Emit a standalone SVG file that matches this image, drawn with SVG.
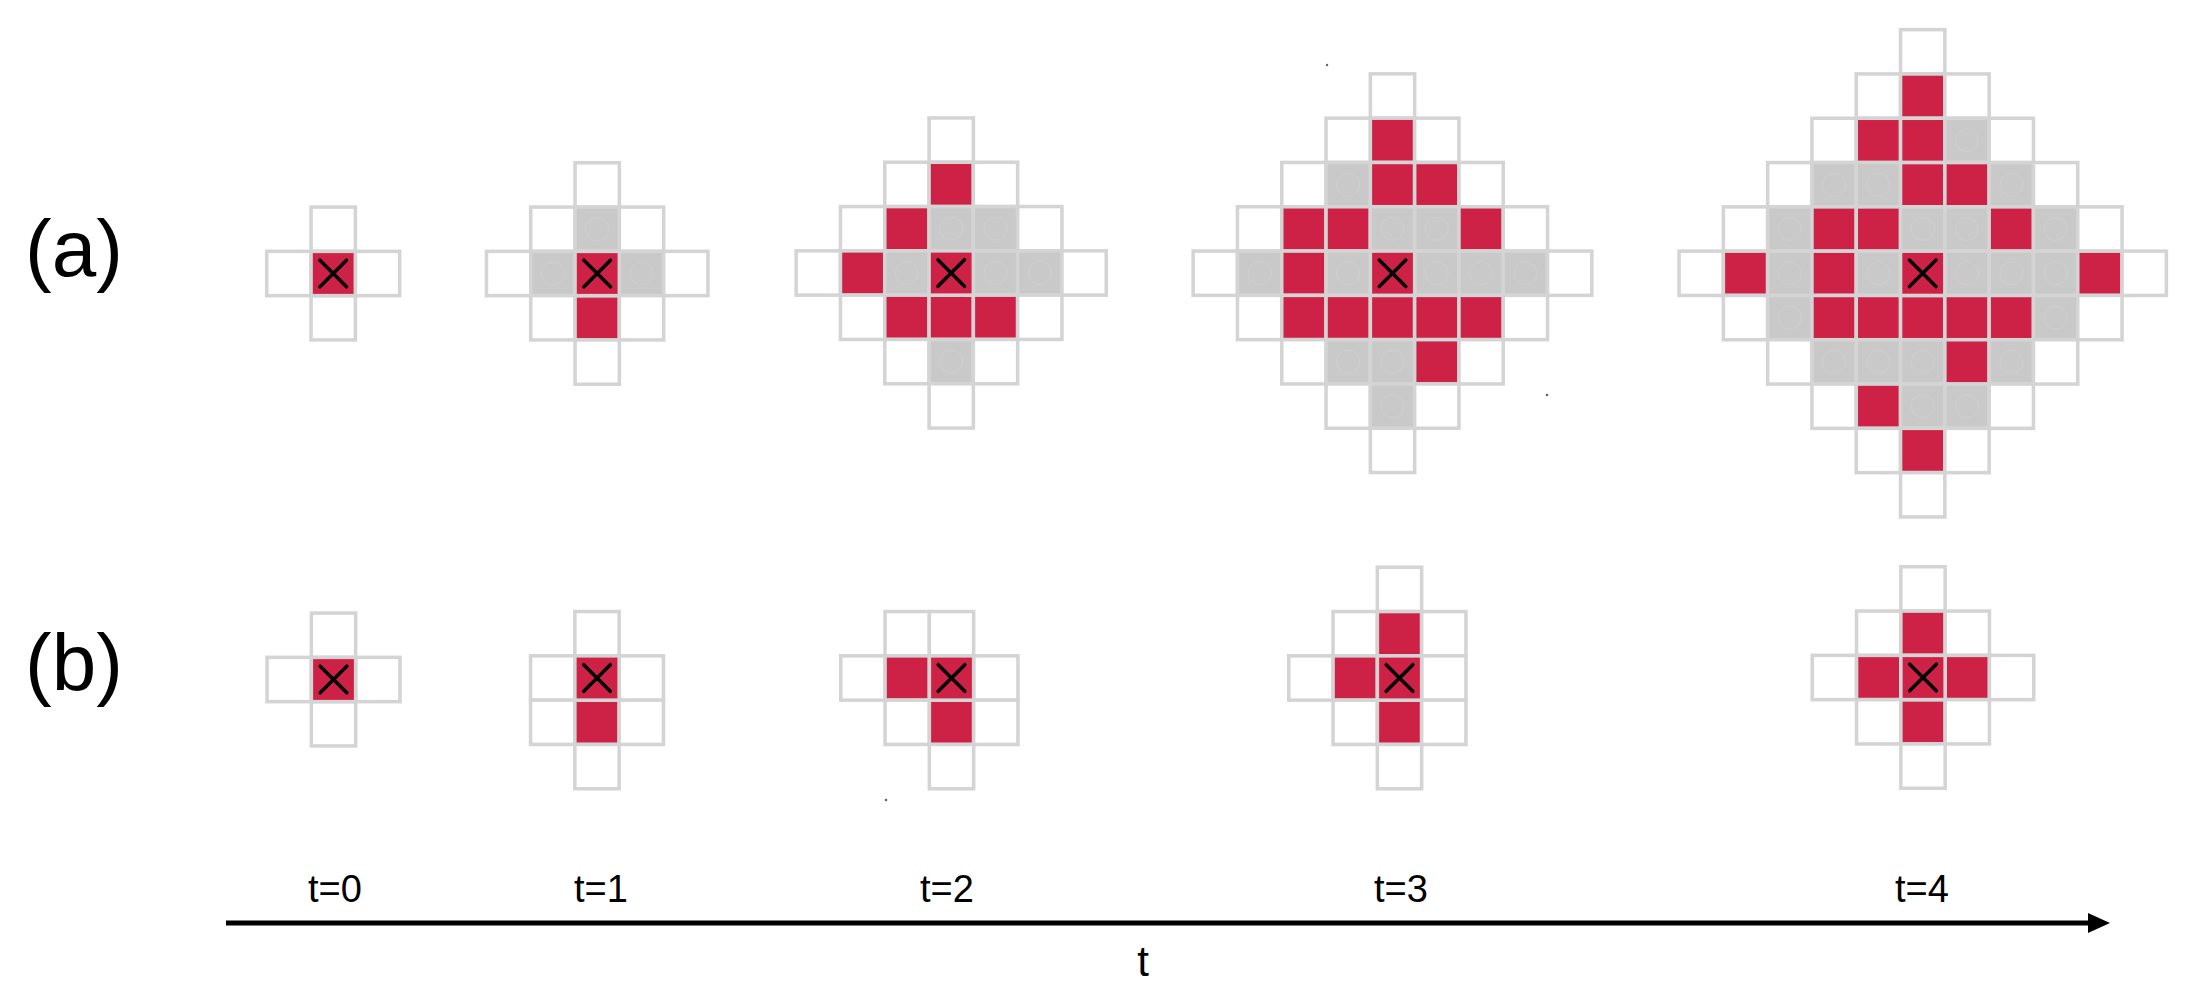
<svg xmlns="http://www.w3.org/2000/svg" xmlns:xlink="http://www.w3.org/1999/xlink" width="2188" height="1002" viewBox="0 0 2188 1002">
<style>
  .lbl{font-family:"Liberation Sans",Arial,sans-serif;fill:#000}
  .big{font-size:80px}
  .tl{font-size:38px;text-anchor:middle}
  .ax{font-size:42px;text-anchor:middle}
  .dot{fill:#666}
</style>
<defs>
  <rect id="w" x="-.5" y="-.5" width="1" height="1" fill="#fff" stroke="#d4d4d4" stroke-width=".08"/>
  <rect id="r" x="-.5" y="-.5" width="1" height="1" fill="#cd2245" stroke="#d4d4d4" stroke-width=".08"/>
  <g id="g">
    <rect x="-.5" y="-.5" width="1" height="1" fill="#c9c9c9" stroke="#d4d4d4" stroke-width=".08"/>
    <circle r=".26" fill="none" stroke="#cfcfcf" stroke-width=".02"/>
  </g>
  <g id="x">
    <rect x="-.5" y="-.5" width="1" height="1" fill="#cd2245" stroke="#d4d4d4" stroke-width=".08"/>
    <path d="M-.3,-.3L.3,.3M.3,-.3L-.3,.3" stroke="#000" stroke-width=".08" stroke-linecap="round"/>
  </g>
  <marker id="ah" markerWidth="22" markerHeight="20" refX="0" refY="10" orient="auto" markerUnits="userSpaceOnUse">
    <path d="M0,0 L22,10 L0,20 z" fill="#000"/>
  </marker>
</defs>

<g id="label-a"><text class="lbl big" x="74" y="276" text-anchor="middle">(a)</text></g>
<g id="label-b"><text class="lbl big" x="74" y="690" text-anchor="middle">(b)</text></g>

<!-- row (a) -->
<g id="a-t0" transform="translate(333.2 273.5) scale(44.3)">
  <use href="#w" x="0" y="-1"/>
  <use href="#w" x="-1" y="0"/><use href="#w" x="1" y="0"/>
  <use href="#w" x="0" y="1"/>
  <use href="#x" x="0" y="0"/>
</g>

<g id="a-t1" transform="translate(597.2 273.5) scale(44.3)">
  <use href="#w" x="0" y="-2"/>
  <use href="#w" x="-1" y="-1"/><use href="#g" x="0" y="-1"/><use href="#w" x="1" y="-1"/>
  <use href="#w" x="-2" y="0"/><use href="#g" x="-1" y="0"/><use href="#g" x="1" y="0"/><use href="#w" x="2" y="0"/>
  <use href="#w" x="-1" y="1"/><use href="#r" x="0" y="1"/><use href="#w" x="1" y="1"/>
  <use href="#w" x="0" y="2"/>
  <use href="#x" x="0" y="0"/>
</g>

<g id="a-t2" transform="translate(951.2 273) scale(44.3)">
  <use href="#w" x="0" y="-3"/>
  <use href="#w" x="-1" y="-2"/><use href="#r" x="0" y="-2"/><use href="#w" x="1" y="-2"/>
  <use href="#w" x="-2" y="-1"/><use href="#r" x="-1" y="-1"/><use href="#g" x="0" y="-1"/><use href="#g" x="1" y="-1"/><use href="#w" x="2" y="-1"/>
  <use href="#w" x="-3" y="0"/><use href="#r" x="-2" y="0"/><use href="#g" x="-1" y="0"/><use href="#g" x="1" y="0"/><use href="#g" x="2" y="0"/><use href="#w" x="3" y="0"/>
  <use href="#w" x="-2" y="1"/><use href="#r" x="-1" y="1"/><use href="#r" x="0" y="1"/><use href="#r" x="1" y="1"/><use href="#w" x="2" y="1"/>
  <use href="#w" x="-1" y="2"/><use href="#g" x="0" y="2"/><use href="#w" x="1" y="2"/>
  <use href="#w" x="0" y="3"/>
  <use href="#x" x="0" y="0"/>
</g>

<g id="a-t3" transform="translate(1392.5 273.2) scale(44.3)">
  <use href="#w" x="0" y="-4"/>
  <use href="#w" x="-1" y="-3"/><use href="#r" x="0" y="-3"/><use href="#w" x="1" y="-3"/>
  <use href="#w" x="-2" y="-2"/><use href="#g" x="-1" y="-2"/><use href="#r" x="0" y="-2"/><use href="#r" x="1" y="-2"/><use href="#w" x="2" y="-2"/>
  <use href="#w" x="-3" y="-1"/><use href="#r" x="-2" y="-1"/><use href="#r" x="-1" y="-1"/><use href="#g" x="0" y="-1"/><use href="#g" x="1" y="-1"/><use href="#r" x="2" y="-1"/><use href="#w" x="3" y="-1"/>
  <use href="#w" x="-4" y="0"/><use href="#g" x="-3" y="0"/><use href="#r" x="-2" y="0"/><use href="#g" x="-1" y="0"/><use href="#g" x="1" y="0"/><use href="#g" x="2" y="0"/><use href="#g" x="3" y="0"/><use href="#w" x="4" y="0"/>
  <use href="#w" x="-3" y="1"/><use href="#r" x="-2" y="1"/><use href="#r" x="-1" y="1"/><use href="#r" x="0" y="1"/><use href="#r" x="1" y="1"/><use href="#r" x="2" y="1"/><use href="#w" x="3" y="1"/>
  <use href="#w" x="-2" y="2"/><use href="#g" x="-1" y="2"/><use href="#g" x="0" y="2"/><use href="#r" x="1" y="2"/><use href="#w" x="2" y="2"/>
  <use href="#w" x="-1" y="3"/><use href="#g" x="0" y="3"/><use href="#w" x="1" y="3"/>
  <use href="#w" x="0" y="4"/>
  <use href="#x" x="0" y="0"/>
</g>

<g id="a-t4" transform="translate(1922.7 273.3) scale(44.3)">
  <use href="#w" x="0" y="-5"/>
  <use href="#w" x="-1" y="-4"/><use href="#r" x="0" y="-4"/><use href="#w" x="1" y="-4"/>
  <use href="#w" x="-2" y="-3"/><use href="#r" x="-1" y="-3"/><use href="#r" x="0" y="-3"/><use href="#g" x="1" y="-3"/><use href="#w" x="2" y="-3"/>
  <use href="#w" x="-3" y="-2"/><use href="#g" x="-2" y="-2"/><use href="#g" x="-1" y="-2"/><use href="#r" x="0" y="-2"/><use href="#r" x="1" y="-2"/><use href="#g" x="2" y="-2"/><use href="#w" x="3" y="-2"/>
  <use href="#w" x="-4" y="-1"/><use href="#g" x="-3" y="-1"/><use href="#r" x="-2" y="-1"/><use href="#r" x="-1" y="-1"/><use href="#g" x="0" y="-1"/><use href="#g" x="1" y="-1"/><use href="#r" x="2" y="-1"/><use href="#g" x="3" y="-1"/><use href="#w" x="4" y="-1"/>
  <use href="#w" x="-5" y="0"/><use href="#r" x="-4" y="0"/><use href="#g" x="-3" y="0"/><use href="#r" x="-2" y="0"/><use href="#g" x="-1" y="0"/><use href="#g" x="1" y="0"/><use href="#g" x="2" y="0"/><use href="#g" x="3" y="0"/><use href="#r" x="4" y="0"/><use href="#w" x="5" y="0"/>
  <use href="#w" x="-4" y="1"/><use href="#g" x="-3" y="1"/><use href="#r" x="-2" y="1"/><use href="#r" x="-1" y="1"/><use href="#r" x="0" y="1"/><use href="#r" x="1" y="1"/><use href="#r" x="2" y="1"/><use href="#g" x="3" y="1"/><use href="#w" x="4" y="1"/>
  <use href="#w" x="-3" y="2"/><use href="#g" x="-2" y="2"/><use href="#g" x="-1" y="2"/><use href="#g" x="0" y="2"/><use href="#r" x="1" y="2"/><use href="#g" x="2" y="2"/><use href="#w" x="3" y="2"/>
  <use href="#w" x="-2" y="3"/><use href="#r" x="-1" y="3"/><use href="#g" x="0" y="3"/><use href="#g" x="1" y="3"/><use href="#w" x="2" y="3"/>
  <use href="#w" x="-1" y="4"/><use href="#r" x="0" y="4"/><use href="#w" x="1" y="4"/>
  <use href="#w" x="0" y="5"/>
  <use href="#x" x="0" y="0"/>
</g>

<!-- row (b) -->
<g id="b-t0" transform="translate(333.5 679.5) scale(44.3)">
  <use href="#w" x="0" y="-1"/>
  <use href="#w" x="-1" y="0"/><use href="#w" x="1" y="0"/>
  <use href="#w" x="0" y="1"/>
  <use href="#x" x="0" y="0"/>
</g>

<g id="b-t1" transform="translate(597 678) scale(44.3)">
  <use href="#w" x="0" y="-1"/>
  <use href="#w" x="-1" y="0"/><use href="#w" x="1" y="0"/>
  <use href="#w" x="-1" y="1"/><use href="#r" x="0" y="1"/><use href="#w" x="1" y="1"/>
  <use href="#w" x="0" y="2"/>
  <use href="#x" x="0" y="0"/>
</g>

<g id="b-t2" transform="translate(951.5 678) scale(44.3)">
  <use href="#w" x="-1" y="-1"/><use href="#w" x="0" y="-1"/>
  <use href="#w" x="-2" y="0"/><use href="#r" x="-1" y="0"/><use href="#w" x="1" y="0"/>
  <use href="#w" x="-1" y="1"/><use href="#r" x="0" y="1"/><use href="#w" x="1" y="1"/>
  <use href="#w" x="0" y="2"/>
  <use href="#x" x="0" y="0"/>
</g>

<g id="b-t3" transform="translate(1399.5 678) scale(44.3)">
  <use href="#w" x="0" y="-2"/>
  <use href="#w" x="-1" y="-1"/><use href="#r" x="0" y="-1"/><use href="#w" x="1" y="-1"/>
  <use href="#w" x="-2" y="0"/><use href="#r" x="-1" y="0"/><use href="#w" x="1" y="0"/>
  <use href="#w" x="-1" y="1"/><use href="#r" x="0" y="1"/><use href="#w" x="1" y="1"/>
  <use href="#w" x="0" y="2"/>
  <use href="#x" x="0" y="0"/>
</g>

<g id="b-t4" transform="translate(1923 677.5) scale(44.3)">
  <use href="#w" x="0" y="-2"/>
  <use href="#w" x="-1" y="-1"/><use href="#r" x="0" y="-1"/><use href="#w" x="1" y="-1"/>
  <use href="#w" x="-2" y="0"/><use href="#r" x="-1" y="0"/><use href="#r" x="1" y="0"/><use href="#w" x="2" y="0"/>
  <use href="#w" x="-1" y="1"/><use href="#r" x="0" y="1"/><use href="#w" x="1" y="1"/>
  <use href="#w" x="0" y="2"/>
  <use href="#x" x="0" y="0"/>
</g>

<!-- stray specks -->
<g id="specks">
  <circle class="dot" cx="1327" cy="65" r="1.2"/>
  <circle class="dot" cx="1547" cy="395" r="1.3"/>
  <circle class="dot" cx="886" cy="800" r="1.3"/>
</g>

<!-- time labels -->
<g id="time-labels">
  <text class="lbl tl" x="335" y="902">t=0</text>
  <text class="lbl tl" x="601" y="902">t=1</text>
  <text class="lbl tl" x="947" y="902">t=2</text>
  <text class="lbl tl" x="1401" y="902">t=3</text>
  <text class="lbl tl" x="1922" y="902">t=4</text>
</g>

<!-- connectors -->
<g id="connectors">
  <line x1="226" y1="923" x2="2088" y2="923" stroke="#000" stroke-width="5" marker-end="url(#ah)"/>
</g>
<g id="axis-label"><text class="lbl ax" x="1143" y="976">t</text></g>
</svg>
